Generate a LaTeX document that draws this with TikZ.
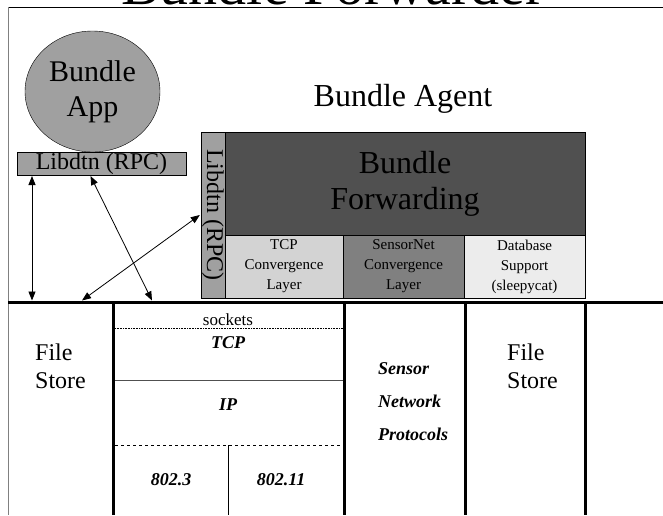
\documentclass[tikz,border=0pt]{standalone}
\usepackage{fontspec}
\setmainfont{Liberation Serif}
\usetikzlibrary{arrows.meta,shapes.geometric}

\definecolor{midgray}{HTML}{A0A0A0}
\definecolor{darkgray}{HTML}{505050}
\definecolor{lightgray}{HTML}{D3D3D3}
\definecolor{sngray}{HTML}{808080}
\definecolor{dbgray}{HTML}{ECECEC}

\begin{document}
\begin{tikzpicture}[x=1pt, y=-1pt, >={Triangle[length=9pt,width=7pt]},
	box/.style={draw, inner sep=0pt, outer sep=0pt, anchor=north west, align=center},
	bus/.style={line width=3pt},
	proto/.style={inner sep=0pt, font=\fontsize{18}{33}\selectfont\bfseries\itshape}]
	
	% 1. Vung ve (663 x 515)
	\useasboundingbox (0,0) rectangle (663,515);
	\clip (0,0) rectangle (663,515);
	
	% 2. Khung va tieu de (bi cat o tren)
	\node[anchor=base, font=\fontsize{58}{62}\selectfont] (title) at (333,4) {Bundle Forwarder};
	\draw[line width=0.8pt] (8,7) -- (663,7);
	\draw[line width=0.8pt, gray] (8,7) -- (8,515);
	
	% 3. Ung dung
	\node[ellipse, draw, fill=midgray, minimum width=135pt, minimum height=121pt,
	inner sep=0pt, align=center, font=\fontsize{30}{35}\selectfont] (app) at (92.5,91.5) {Bundle\\App};
	\node[box, fill=midgray, minimum width=169pt, minimum height=23pt,
	font=\fontsize{24}{28}\selectfont] (libh) at (17,152) {Libdtn (RPC)};
	
	% 4. Bundle Agent
	\node[anchor=base, font=\fontsize{32}{36}\selectfont] (agent) at (403,106) {Bundle Agent};
	\node[draw, fill=midgray, rotate=-90, inner sep=0pt, minimum width=166pt, minimum height=24pt,
	font=\fontsize{24}{28}\selectfont] (libv) at (213,215) {Libdtn (RPC)};
	\node[box, fill=darkgray, minimum width=360pt, minimum height=103pt,
	font=\fontsize{32}{36}\selectfont] (fwd) at (225,132) {Bundle\\Forwarding};
	\node[box, fill=lightgray, minimum width=118pt, minimum height=63pt,
	font=\fontsize{15}{20}\selectfont] (tcpcl) at (225,235) {TCP\\Convergence\\Layer};
	\node[box, fill=sngray, minimum width=121pt, minimum height=63pt,
	font=\fontsize{15}{20}\selectfont] (sncl) at (343,235) {SensorNet\\Convergence\\Layer};
	\node[box, fill=dbgray, minimum width=121pt, minimum height=63pt,
	font=\fontsize{15}{20}\selectfont] (dbs) at (464,235) {Database\\Support\\(sleepycat)};
	
	% 5. Duong bus va cac cot
	\draw[bus] (8,302) -- (663,302);
	\foreach \cx in {113,344,465,585}
	\draw[bus] (\cx,302) -- (\cx,515);
	
	% 6. Ngan xep TCP/IP
	\draw[densely dotted, line width=0.6pt] (115,328) -- (343,328);
	\draw[line width=0.8pt, darkgray] (115,380) -- (343,380);
	\draw[dashed, line width=0.8pt] (115,445) -- (343,445);
	\draw[line width=0.8pt] (228,445) -- (228,515);
	\node[anchor=base, font=\fontsize{17}{20}\selectfont] (sock) at (228,325) {sockets};
	\node[proto] (tcp) at (228,343) {TCP};
	\node[proto] (ip) at (228,405) {IP};
	\node[proto] (eth) at (171,480) {802.3};
	\node[proto] (wifi) at (281,480) {802.11};
	\node[proto, anchor=west, align=left] (snp) at (378,402) {Sensor\\Network\\Protocols};
	
	% 7. File Store
	\node[anchor=west, align=left, inner sep=0pt, font=\fontsize{24}{28}\selectfont] (fs1) at (35,366) {File\\Store};
	\node[anchor=west, align=left, inner sep=0pt, font=\fontsize{24}{28}\selectfont] (fs2) at (507,366) {File\\Store};
	
	% 8. Mui ten
	\coordinate (b1) at (32,300.5);
	\coordinate (b2) at (152,300.5);
	\coordinate (b3) at (82,300.5);
	\draw[<->, line width=0.8pt] ([xshift=15pt, yshift=-1pt]libh.south west) -- (b1);
	\draw[<->, line width=0.8pt] ([xshift=-11pt, yshift=-1pt]libh.south) -- (b2);
	\draw[<->, line width=0.8pt] (b3) -- ([xshift=-1pt]libv.south);
	
\end{tikzpicture}
\end{document}
